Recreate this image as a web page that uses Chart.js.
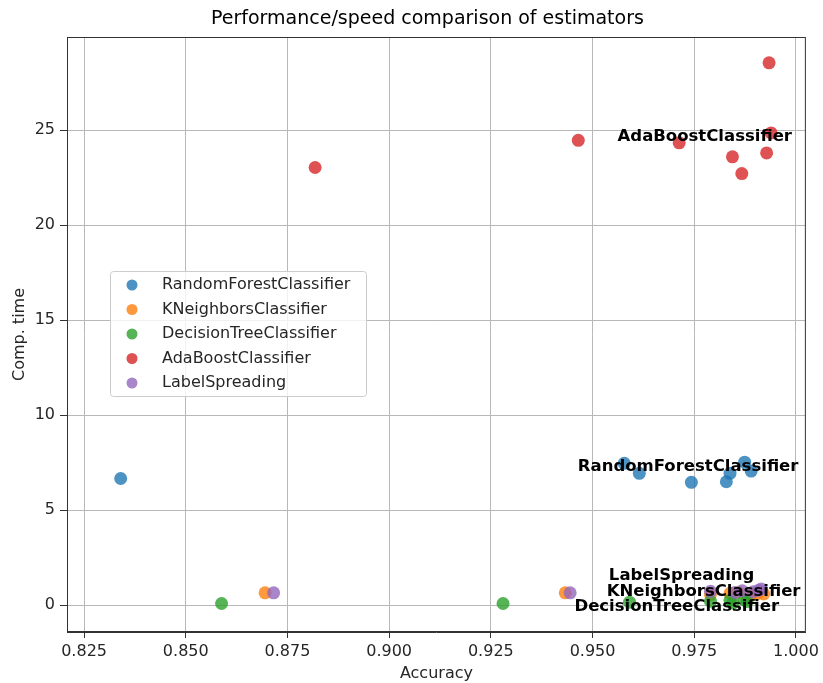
<!DOCTYPE html>
<html>
<head>
<meta charset="utf-8">
<script src="https://cdn.jsdelivr.net/npm/chart.js@4.4.0/dist/chart.umd.min.js"></script>
<style>
  html, body { margin: 0; padding: 0; background: #fff; }
</style>
</head>
<body>
<canvas id="chart" width="823" height="683"></canvas>
<script>
// series names, in legend order
const names = ['RandomForestClassifier', 'KNeighborsClassifier', 'DecisionTreeClassifier', 'AdaBoostClassifier', 'LabelSpreading'];

// accuracy / computation time
const rfAcc  = [0.834, 0.9578, 0.9615, 0.9743, 0.9829, 0.9838, 0.9874, 0.9890];
const rfTime = [6.66, 7.46, 6.93, 6.46, 6.49, 6.93, 7.52, 7.05];
const knAcc  = [0.8695, 0.9433, 0.9790, 0.9838, 0.9860, 0.9891, 0.9905, 0.9921];
const knTime = [0.64, 0.64, 0.55, 0.62, 0.66, 0.55, 0.60, 0.58];
const dtAcc  = [0.8588, 0.9280, 0.9591, 0.9790, 0.9838, 0.9873, 0.9845, 0.9880];
const dtTime = [0.08, 0.08, 0.15, 0.20, 0.25, 0.28, 0.10, 0.18];
const abAcc  = [0.8818, 0.9465, 0.9713, 0.9844, 0.9867, 0.9928, 0.9934, 0.9939];
const abTime = [23.03, 24.46, 24.33, 23.59, 22.71, 23.80, 28.54, 24.85];
const lsAcc  = [0.8716, 0.9445, 0.9790, 0.9850, 0.9868, 0.9895, 0.9909, 0.9915];
const lsTime = [0.64, 0.64, 0.72, 0.66, 0.75, 0.70, 0.78, 0.85];

const xTicks = [0.825, 0.850, 0.875, 0.900, 0.925, 0.950, 0.975, 1.000];
const yTicks = [0, 5, 10, 15, 20, 25];

// where the bold name labels sit (data coords, centre of text)
const noteAt = [
  { name: 'AdaBoostClassifier', x: 0.9776, y: 24.67 },
  { name: 'RandomForestClassifier', x: 0.9735, y: 7.27 },
  { name: 'LabelSpreading', x: 0.9719, y: 1.55 },
  { name: 'KNeighborsClassifier', x: 0.9773, y: 0.71 },
  { name: 'DecisionTreeClassifier', x: 0.9707, y: -0.08 }
];

const colors = [
  'rgba(31, 119, 180, 0.8)',
  'rgba(255, 127, 14, 0.8)',
  'rgba(44, 160, 44, 0.8)',
  'rgba(214, 39, 40, 0.8)',
  'rgba(148, 103, 189, 0.8)'
];

const FONT = "'DejaVu Sans', sans-serif";

function pts(xs, ys) {
  return xs.map(function(x, i) { return { x: x, y: ys[i] }; });
}

const series = [pts(rfAcc, rfTime), pts(knAcc, knTime), pts(dtAcc, dtTime), pts(abAcc, abTime), pts(lsAcc, lsTime)];

const datasets = series.map(function(d, i) {
  return {
    label: names[i],
    data: d,
    backgroundColor: colors[i],
    borderColor: colors[i],
    borderWidth: 0,
    pointRadius: 6.5,
    pointHoverRadius: 6.5,
    order: names.length - i   // later series on top, like matplotlib
  };
});

// title, frame, text labels and legend
const extras = {
  id: 'extras',
  afterDatasetsDraw: function(chart) {
    const ctx = chart.ctx;
    const a = chart.chartArea;
    const xs = chart.scales.x, ys = chart.scales.y;
    ctx.save();

    // frame
    ctx.strokeStyle = '#333';
    ctx.lineWidth = 1;
    ctx.strokeRect(a.left + 0.5, a.top + 0.5, a.right - a.left - 1, a.bottom - a.top - 1);

    // title
    ctx.fillStyle = '#000';
    ctx.font = '19px ' + FONT;
    ctx.textAlign = 'center';
    ctx.textBaseline = 'middle';
    ctx.fillText('Performance/speed comparison of estimators', (a.left + a.right) / 2 - 9, 19);

    // bold annotations
    ctx.font = 'bold 16.5px ' + FONT;
    noteAt.forEach(function(n) {
      ctx.fillText(n.name, xs.getPixelForValue(n.x), ys.getPixelForValue(n.y));
    });

    // legend box
    const lx = 110, ly = 271, lw = 256, lh = 125, step = 24.5;
    ctx.fillStyle = 'rgba(255,255,255,0.8)';
    ctx.strokeStyle = '#cccccc';
    ctx.beginPath();
    ctx.roundRect(lx + 0.5, ly + 0.5, lw, lh, 3);
    ctx.fill();
    ctx.stroke();
    ctx.font = '16px ' + FONT;
    ctx.textAlign = 'left';
    names.forEach(function(name, i) {
      const cy = ly + 14 + i * step;
      ctx.fillStyle = colors[i];
      ctx.beginPath();
      ctx.arc(lx + 22, cy, 5.5, 0, Math.PI * 2);
      ctx.fill();
      ctx.fillStyle = '#262626';
      ctx.fillText(name, lx + 52, cy);
    });

    ctx.restore();
  }
};

new Chart(document.getElementById('chart').getContext('2d'), {
  type: 'scatter',
  data: { datasets: datasets },
  plugins: [extras],
  options: {
    responsive: false,
    animation: false,
    layout: { padding: { top: 37, right: 14, left: 0, bottom: 0 } },
    plugins: {
      legend: { display: false },
      title: { display: false },
      tooltip: { enabled: false }
    },
    scales: {
      x: {
        type: 'linear',
        min: 0.8208,
        max: 1.00245,
        afterBuildTicks: function(s) { s.ticks = xTicks.map(function(v) { return { value: v }; }); },
        afterFit: function(s) { s.height = 51; },
        grid: { color: '#b8b8b8', lineWidth: 1, tickLength: 6, tickColor: '#333' },
        border: { color: '#333' },
        ticks: {
          color: '#262626',
          padding: 4,
          maxRotation: 0,
          font: { family: FONT, size: 16 },
          callback: function(v) { return v.toFixed(3); }
        },
        title: {
          display: true,
          text: 'Accuracy',
          color: '#262626',
          padding: { top: 0, bottom: 0 },
          font: { family: FONT, size: 16 }
        }
      },
      y: {
        type: 'linear',
        min: -1.42,
        max: 29.9,
        afterBuildTicks: function(s) { s.ticks = yTicks.map(function(v) { return { value: v }; }); },
        afterFit: function(s) { s.width = 67; },
        grid: { color: '#b8b8b8', lineWidth: 1, tickLength: 7, tickColor: '#333' },
        border: { color: '#333' },
        ticks: {
          color: '#262626',
          padding: 5,
          font: { family: FONT, size: 16 },
          callback: function(v) { return String(v); }
        },
        title: {
          display: true,
          text: 'Comp. time',
          color: '#262626',
          padding: { top: 10, bottom: 0 },
          font: { family: FONT, size: 16 }
        }
      }
    }
  }
});
</script>
</body>
</html>
